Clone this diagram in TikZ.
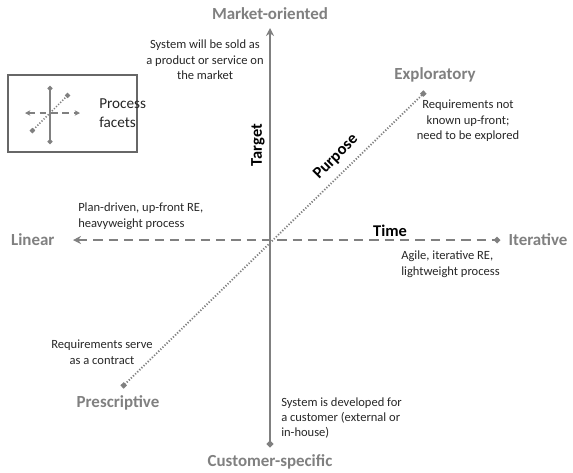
\documentclass[tikz,border=0pt]{standalone}
\usepackage{fontspec}
\setmainfont{Carlito}
\usetikzlibrary{arrows.meta}
\definecolor{axisgray}{RGB}{128,128,128}
\definecolor{txt}{RGB}{38,38,38}

\begin{document}
\begin{tikzpicture}[x=0.75pt,y=-0.75pt,
  pole/.style={font=\bfseries\fontsize{12.7}{14}\selectfont,text=axisgray,inner sep=1pt},
  axname/.style={font=\bfseries\fontsize{12.3}{14}\selectfont,text=black,inner sep=1pt},
  note/.style={font=\fontsize{9.4}{11.6}\selectfont,text=txt,inner sep=0pt},
  target/.style={draw=axisgray,line width=2.2pt},
  time/.style={draw=axisgray,line width=1.8pt,dash pattern=on 7pt off 4.5pt},
  purpose/.style={draw=axisgray,line width=1.4pt,dash pattern=on 0.9pt off 1.3pt}]
\useasboundingbox (0,0) rectangle (573,472);
% axes
\coordinate (top) at (270,28);
\coordinate (bot) at (270,447);
\coordinate (lin) at (73,240);
\coordinate (itr) at (500,240);
\coordinate (pre) at (122,387);
\coordinate (exp) at (425,92);
\draw[target,{Stealth[length=6pt,width=6pt]}-{Circle[length=4.5pt]}] (top)--(bot);
\draw[time,{Stealth[length=6pt,width=6pt]}-{Circle[length=4.5pt]}] (lin)--(itr);
\draw[purpose,{Square[length=3.5pt,width=3.5pt]}-{Square[length=3.5pt,width=3.5pt]}] (pre)--(exp);
% poles
\node[pole] (mkt) at (270,14) {Market-oriented};
\node[pole] (cust) at (270,462) {Customer-specific};
\node[pole,anchor=east] (linear) at (56,240) {Linear};
\node[pole,anchor=west] (iter) at (507,240) {Iterative};
\node[pole] (explo) at (435,75) {Exploratory};
\node[pole] (presc) at (118,403) {Prescriptive};
% axis names
\node[axname,rotate=90] (tgt) at (258,145) {Target};
\node[axname,rotate=45] (purp) at (336,157) {Purpose};
\node[axname] (tm) at (390,231) {Time};
% notes
\node[note,align=center] (n1) at (205,60) {System will be sold as\\a product or service on\\the market};
\node[note,align=center] (n2) at (468,121) {Requirements not\\known up-front;\\need to be explored};
\node[note,align=left,anchor=west] (n3) at (78,216) {Plan-driven, up-front RE,\\heavyweight process};
\node[note,align=left,anchor=west] (n4) at (401,264) {Agile, iterative RE,\\lightweight process};
\node[note,align=center] (n5) at (102,352) {Requirements serve\\as a contract};
\node[note,align=left,anchor=west] (n6) at (281,418) {System is developed for\\a customer (external or\\in-house)};
% legend
\draw[axisgray!80!black,line width=0.8pt] (8,75) rectangle (137,152);
\coordinate (lt) at (50,86);
\coordinate (lb) at (50,144);
\coordinate (ll) at (25,113);
\coordinate (lr) at (80,113);
\coordinate (ld) at (31,132);
\coordinate (lu) at (69,94);
\draw[draw=axisgray,line width=1.5pt,{Circle[length=3.5pt]}-{Circle[length=3.5pt]}] (lt)--(lb);
\draw[draw=axisgray,line width=1.2pt,dash pattern=on 5pt off 3.5pt,{Stealth[length=4pt,width=4pt]}-{Stealth[length=4pt,width=4pt]}] (ll)--(lr);
\draw[purpose,line width=1.2pt,{Square[length=3pt,width=3pt]}-{Square[length=3pt,width=3pt]}] (ld)--(lu);
\node[note,align=left,anchor=west,font=\fontsize{11.4}{14.2}\selectfont] (leg) at (99,113) {Process\\facets};
\end{tikzpicture}
\end{document}
